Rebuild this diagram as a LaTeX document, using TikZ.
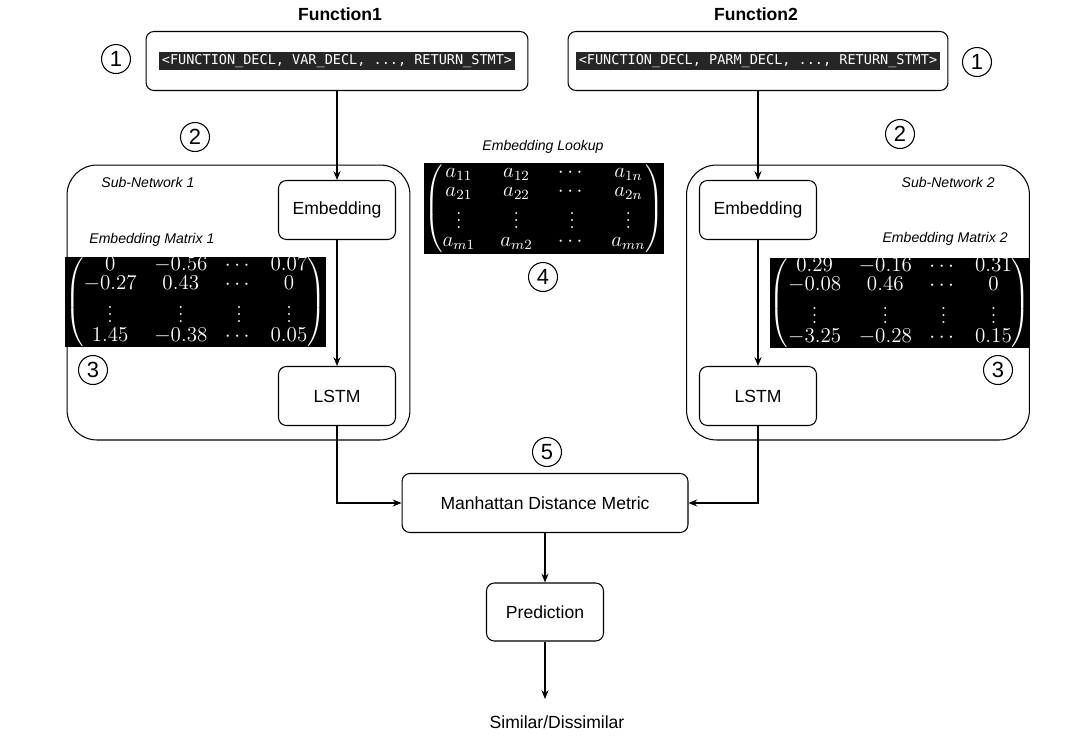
\documentclass[tikz,border=0pt]{standalone}
\usepackage{amsmath}
\usepackage{fontspec}
\setsansfont{Liberation Sans}
\setmonofont{DejaVu Sans Mono}
\usetikzlibrary{arrows.meta}

\begin{document}
\begin{tikzpicture}[x=0.02cm, y=-0.02cm, line width=0.6pt,
  font=\sffamily\fontsize{10}{12}\selectfont,
  blk/.style={draw, rounded corners=4.5pt, minimum width=2.34cm, minimum height=1.18cm},
  net/.style={draw, rounded corners=0.6cm, minimum width=6.86cm, minimum height=5.5cm},
  num/.style={circle, draw, inner sep=0pt, minimum size=0.58cm,
    font=\sffamily\fontsize{12.5}{14}\selectfont},
  tag/.style={font=\sffamily\itshape\fontsize{8}{10}\selectfont},
  code/.style={fill=black!85, text=white, inner sep=1.6pt,
    font=\ttfamily\fontsize{7.7}{9}\selectfont},
  mat/.style={fill=black, text=white, inner sep=0pt,
    font=\fontsize{11.5}{12.5}\selectfont,
    execute at begin node={\renewcommand\arraystretch{0.84}\setlength\arraycolsep{#1}}},
  mat/.default=5pt,
  arr/.style={-{Stealth[length=5pt, width=4pt]}}]
\useasboundingbox (0,0) rectangle (1080,741);

% titles and input sequences
\node[font=\sffamily\bfseries\fontsize{10}{12}\selectfont] (t1) at (340,14) {Function1};
\node[font=\sffamily\bfseries\fontsize{10}{12}\selectfont] (t2) at (756,14) {Function2};
\node[blk, minimum width=7.64cm] (f1) at (337,61) {};
\node[code] (seq1) at (f1) {<FUNCTION\_DECL, VAR\_DECL, ..., RETURN\_STMT>};
\node[blk, minimum width=7.6cm] (f2) at (758,61) {};
\node[code] (seq2) at (f2) {<FUNCTION\_DECL, PARM\_DECL, ..., RETURN\_STMT>};

% sub-networks
\node[net] (sn1) at (238.5,302.5) {};
\node[net] (sn2) at (858,302.5) {};
\node[tag, anchor=west] (l1) at (95,182) {Sub-Network 1};
\node[tag, anchor=east] (l2) at (1001,182) {Sub-Network 2};
\node[blk] (emb1) at (337,210) {Embedding};
\node[blk] (lstm1) at (337,396) {LSTM};
\node[blk] (emb2) at (758,210) {Embedding};
\node[blk] (lstm2) at (758,396) {LSTM};

% embedding matrices
\node[tag, anchor=west] (m1t) at (83,240) {Embedding Matrix 1};
\node[mat, minimum width=4.86cm, minimum height=1.8cm] (m1) at (195.5,302)
  {$\begin{pmatrix} 0 & -0.56 & \cdots & 0.07\\ -0.27 & 0.43 & \cdots & 0\\
    \vdots & \vdots & \vdots & \vdots\\ 1.45 & -0.38 & \cdots & 0.05 \end{pmatrix}$};
\node[tag, anchor=east] (m2t) at (1014,239) {Embedding Matrix 2};
\node[mat, minimum width=4.92cm, minimum height=1.76cm] (m2) at (900,303)
  {$\begin{pmatrix} 0.29 & -0.16 & \cdots & 0.31\\ -0.08 & 0.46 & \cdots & 0\\
    \vdots & \vdots & \vdots & \vdots\\ -3.25 & -0.28 & \cdots & 0.15 \end{pmatrix}$};
\node[tag] (m4t) at (543,147) {Embedding Lookup};
\node[mat=7.2pt, minimum width=4.24cm, minimum height=1.82cm] (m4) at (544,208.5)
  {$\begin{pmatrix} a_{11} & a_{12} & \cdots & a_{1n}\\ a_{21} & a_{22} & \cdots & a_{2n}\\
    \vdots & \vdots & \vdots & \vdots\\ a_{m1} & a_{m2} & \cdots & a_{mn} \end{pmatrix}$};

% distance and prediction
\node[blk, minimum width=5.72cm] (man) at (545,503) {Manhattan Distance Metric};
\node[blk, minimum height=1.16cm] (pred) at (545,612) {Prediction};
\node (out) at (557,722) {Similar/Dissimilar};
\coordinate (end) at (545,699);

% step numbers
\node[num] (n1a) at (116,59) {1};
\node[num] (n1b) at (977,62) {1};
\node[num] (n2a) at (195,137) {2};
\node[num] (n2b) at (900,134) {2};
\node[num] (n3a) at (93,370) {3};
\node[num] (n3b) at (998,370) {3};
\node[num] (n4) at (543,277) {4};
\node[num] (n5) at (547,452) {5};

% connectors
\draw[arr] (f1) -- (emb1);
\draw[arr] (emb2 |- f2.south) -- (emb2);
\draw[arr] (emb1) -- (lstm1);
\draw[arr] (emb2) -- (lstm2);
\draw[arr] (lstm1) |- (man);
\draw[arr] (lstm2) |- (man);
\draw[arr] (man) -- (pred);
\draw[arr] (pred) -- (end);
\end{tikzpicture}
\end{document}
